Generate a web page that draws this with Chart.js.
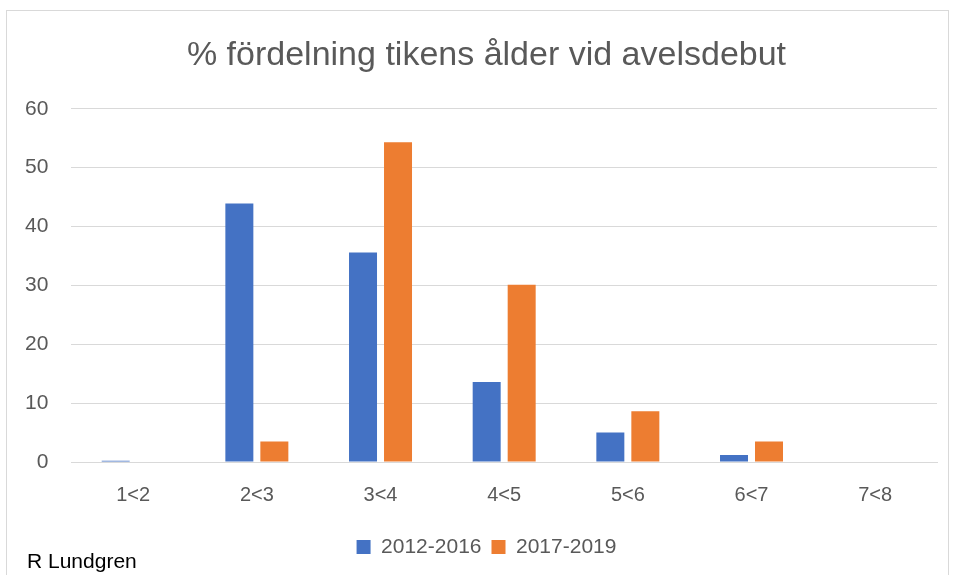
<!DOCTYPE html>
<html>
<head>
<meta charset="utf-8">
<script src="https://cdn.jsdelivr.net/npm/chart.js@4"></script>
<style>
  html, body { margin: 0; padding: 0; background: #fff; }
  #wrap { width: 954px; height: 575px; position: relative; }
</style>
</head>
<body>
<div id="wrap"><canvas id="chart"></canvas></div>
<script>
const categories = ['1<2', '2<3', '3<4', '4<5', '5<6', '6<7', '7<8']
const values2012 = [0.2, 43.9, 35.6, 13.6, 5.0, 1.2, 0]
const values2017 = [0, 3.5, 54.3, 30.1, 8.6, 3.5, 0]
const yTicks = { min: 0, max: 60, step: 10 }

const textGray = '#595959'
const fontFamily = '"Liberation Sans", Arial, sans-serif'

// frame round the chart, author note, and title/legend nudged right of centre
const extras = {
    id: 'extras',
    afterLayout(chart) {
        const shift = 17
        ;[chart.titleBlock, chart.legend].forEach(box => {
            if(box) {
                box.left += shift
                box.right += shift
            }
        })
    },
    beforeDraw(chart) {
        const ctx = chart.ctx
        ctx.save()
        ctx.fillStyle = '#fff'
        ctx.fillRect(0, 0, chart.width, chart.height)
        ctx.strokeStyle = '#d9d9d9'
        ctx.lineWidth = 1
        ctx.strokeRect(6.5, 10.5, 942, 600)
        ctx.restore()
    },
    afterDraw(chart) {
        const ctx = chart.ctx
        ctx.save()
        ctx.fillStyle = '#000'
        ctx.font = '21px ' + fontFamily
        ctx.textBaseline = 'alphabetic'
        ctx.fillText('R Lundgren', 27, 568)
        ctx.restore()
    }
}

new Chart(document.getElementById('chart').getContext('2d'), {
    type: 'bar',
    data: {
        labels: categories,
        datasets: [
            {
                label: '2012-2016',
                data: values2012,
                backgroundColor: '#4472C4',
                borderWidth: 0
            },
            {
                label: '2017-2019',
                data: values2017,
                backgroundColor: '#ED7D31',
                borderWidth: 0
            }
        ]
    },
    options: {
        responsive: true,
        maintainAspectRatio: false,
        animation: false,
        layout: { padding: { left: 2, right: 17, top: 22, bottom: 7.5 } },
        datasets: {
            bar: { categoryPercentage: 0.566, barPercentage: 0.8 }
        },
        plugins: {
            title: {
                display: true,
                text: '% fördelning tikens ålder vid avelsdebut',
                color: textGray,
                font: { family: fontFamily, size: 34, weight: 'normal' },
                padding: { top: 13, bottom: 33 }
            },
            legend: {
                position: 'bottom',
                labels: {
                    color: textGray,
                    font: { family: fontFamily, size: 21 },
                    boxWidth: 14,
                    boxHeight: 14,
                    padding: 10
                }
            },
            tooltip: { enabled: false }
        },
        scales: {
            x: {
                grid: { display: false },
                border: { display: true, color: '#d9d9d9' },
                ticks: {
                    color: textGray,
                    font: { family: fontFamily, size: 20 },
                    padding: 13
                },
                afterFit(scale) { scale.height += 6.5 }
            },
            y: {
                min: yTicks.min,
                max: yTicks.max,
                grid: { color: '#d9d9d9', lineWidth: 1, drawTicks: false },
                border: { display: false },
                ticks: {
                    stepSize: yTicks.step,
                    color: textGray,
                    font: { family: fontFamily, size: 21 },
                    padding: 23
                }
            }
        }
    },
    plugins: [extras]
})
</script>
</body>
</html>
